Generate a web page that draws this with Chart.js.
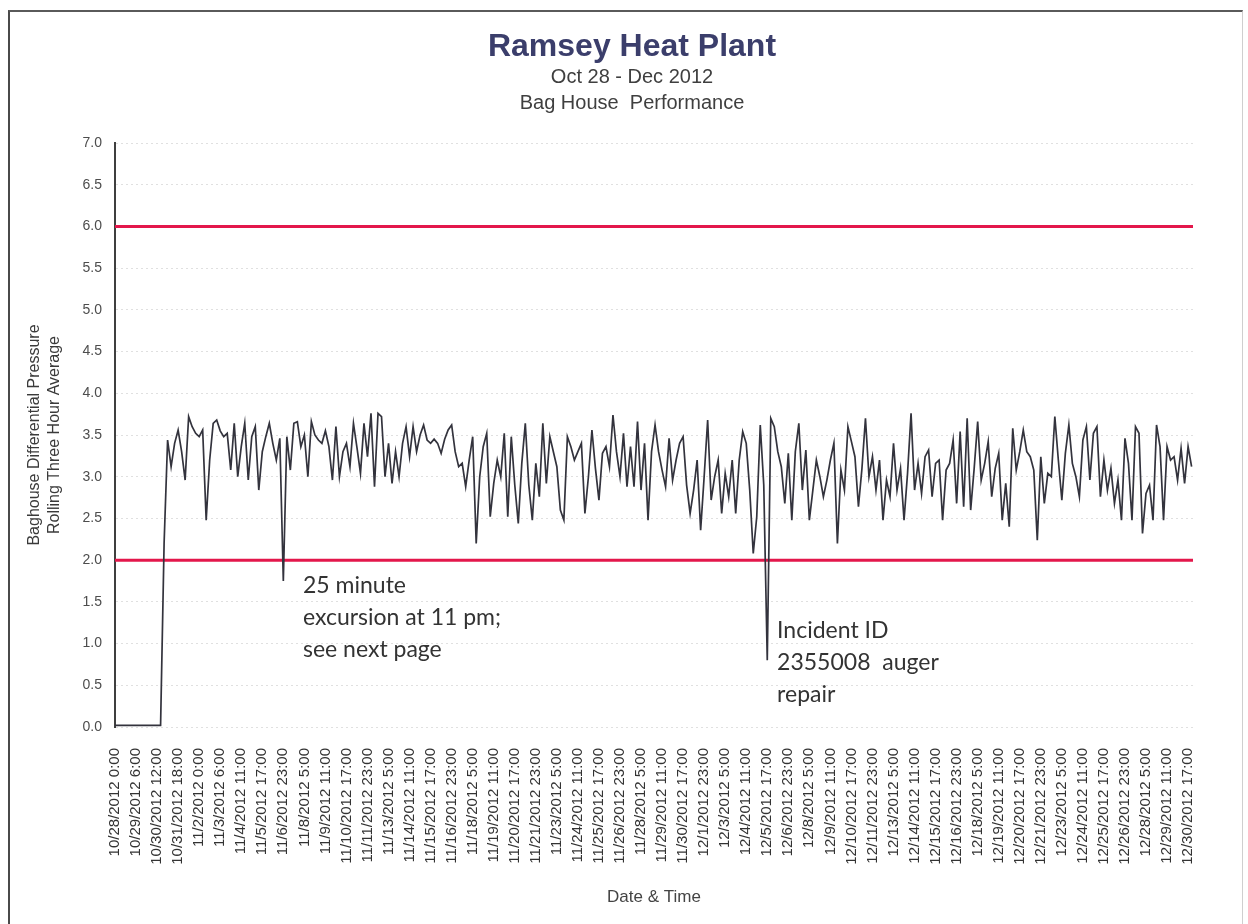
<!DOCTYPE html>
<html>
<head>
<meta charset="utf-8">
<script src="https://cdn.jsdelivr.net/npm/chart.js@4.4.1/dist/chart.umd.min.js"></script>
<style>
  html, body { margin: 0; padding: 0; background: #fff; overflow: hidden; }
  #wrap { position: relative; width: 1248px; height: 924px; }
  #wrap canvas { position: absolute; left: 0; top: 0; }
  #frame {
    position: absolute; left: 8px; top: 10px; right: 5px; bottom: -4px;
    border-left: 2px solid #4a4a4a; border-top: 2px solid #5a5a5a; border-right: 1px solid #cfcfcf;
    pointer-events: none;
  }
</style>
</head>
<body>
<div id="wrap">
  <canvas id="chart" width="1248" height="924"></canvas>
  <div id="frame"></div>
</div>
<script>
// ===== Ramsey Heat Plant - Bag House Performance =====
// rolling three hour average, one reading every 5 hours from 10/28/2012 0:00
const stepHours = 5;
const pressure = [
  0.02, 0.02, 0.02, 0.02, 0.02, 0.02, 0.02, 0.02, 0.02, 0.02, 0.02, 0.02, 0.02, 0.02,
  2.2, 3.44, 3.12, 3.4, 3.56, 3.3, 2.96,
  3.72, 3.6, 3.52, 3.48, 3.56, 2.48, 3.2, 3.64, 3.68, 3.55,
  3.48, 3.52, 3.08, 3.64, 3.0, 3.36, 3.64, 2.96, 3.48, 3.6,
  2.84, 3.3, 3.48, 3.64, 3.4, 3.2, 3.46, 1.75, 3.48, 3.08,
  3.64, 3.66, 3.36, 3.5, 3.0, 3.66, 3.5, 3.44, 3.4, 3.55,
  3.36, 2.96, 3.6, 3.0, 3.3, 3.4, 3.12, 3.64, 3.35, 3.04,
  3.64, 3.24, 3.76, 2.88, 3.76, 3.72, 3.0, 3.4, 2.92, 3.3,
  3.0, 3.4, 3.6, 3.24, 3.6, 3.3, 3.5, 3.62, 3.44, 3.4,
  3.45, 3.4, 3.28, 3.45, 3.56, 3.62, 3.3, 3.12, 3.16, 2.88,
  3.2, 3.48, 2.2, 3.0, 3.36, 3.52, 2.52, 2.92, 3.2, 3.0,
  3.52, 2.52, 3.48, 2.9, 2.44, 3.16, 3.64, 2.9, 2.48, 3.16,
  2.76, 3.64, 2.92, 3.48, 3.3, 3.12, 2.6, 2.48, 3.48, 3.36,
  3.2, 3.3, 3.4, 2.56, 3.0, 3.56, 3.1, 2.72, 3.28, 3.36,
  3.12, 3.74, 3.3, 3.0, 3.52, 2.88, 3.36, 2.88, 3.66, 2.84,
  3.4, 2.48, 3.3, 3.62, 3.3, 3.08, 2.88, 3.46, 2.96, 3.2,
  3.4, 3.48, 2.9, 2.56, 2.84, 3.2, 2.36, 3.0, 3.68, 2.72,
  3.0, 3.2, 2.56, 3.04, 2.76, 3.2, 2.56, 3.2, 3.54, 3.4,
  2.84, 2.08, 2.52, 3.62, 2.9, 0.8, 3.7, 3.6, 3.3, 3.12,
  2.68, 3.28, 2.48, 3.3, 3.64, 2.84, 3.32, 2.48, 2.84, 3.2,
  3.0, 2.76, 2.96, 3.2, 3.4, 2.2, 3.08, 2.84, 3.6, 3.42,
  3.24, 2.64, 3.1, 3.7, 3.0, 3.24, 2.84, 3.2, 2.48, 2.96,
  2.76, 3.4, 2.84, 3.1, 2.48, 3.04, 3.76, 2.84, 3.16, 2.8,
  3.24, 3.32, 2.76, 3.16, 3.2, 2.48, 3.08, 3.16, 3.44, 2.68,
  3.54, 2.64, 3.7, 2.6, 3.1, 3.66, 2.96, 3.16, 3.42, 2.76,
  3.1, 3.28, 2.48, 2.92, 2.4, 3.58, 3.08, 3.3, 3.56, 3.3,
  3.24, 3.08, 2.24, 3.24, 2.68, 3.04, 3.0, 3.72, 3.2, 2.72,
  3.28, 3.62, 3.16, 3.0, 2.76, 3.44, 3.6, 2.96, 3.52, 3.6,
  2.76, 3.2, 2.84, 3.1, 2.68, 2.96, 2.48, 3.46, 3.16, 2.48,
  3.6, 3.52, 2.32, 2.8, 2.9, 2.48, 3.62, 3.36, 2.48, 3.36,
  3.2, 3.24, 2.96, 3.34, 2.92, 3.36, 3.12
];

// x tick labels, one every 30 hours
const tickEveryHours = 30;
const lastHour = 1537;
const tickLabels = [
  '10/28/2012 0:00', '10/29/2012 6:00', '10/30/2012 12:00', '10/31/2012 18:00',
  '11/2/2012 0:00', '11/3/2012 6:00', '11/4/2012 11:00', '11/5/2012 17:00',
  '11/6/2012 23:00', '11/8/2012 5:00', '11/9/2012 11:00', '11/10/2012 17:00',
  '11/11/2012 23:00', '11/13/2012 5:00', '11/14/2012 11:00', '11/15/2012 17:00',
  '11/16/2012 23:00', '11/18/2012 5:00', '11/19/2012 11:00', '11/20/2012 17:00',
  '11/21/2012 23:00', '11/23/2012 5:00', '11/24/2012 11:00', '11/25/2012 17:00',
  '11/26/2012 23:00', '11/28/2012 5:00', '11/29/2012 11:00', '11/30/2012 17:00',
  '12/1/2012 23:00', '12/3/2012 5:00', '12/4/2012 11:00', '12/5/2012 17:00',
  '12/6/2012 23:00', '12/8/2012 5:00', '12/9/2012 11:00', '12/10/2012 17:00',
  '12/11/2012 23:00', '12/13/2012 5:00', '12/14/2012 11:00', '12/15/2012 17:00',
  '12/16/2012 23:00', '12/18/2012 5:00', '12/19/2012 11:00', '12/20/2012 17:00',
  '12/21/2012 23:00', '12/23/2012 5:00', '12/24/2012 11:00', '12/25/2012 17:00',
  '12/26/2012 23:00', '12/28/2012 5:00', '12/29/2012 11:00', '12/30/2012 17:00'
];

// permit limits
const limitHigh = 6.0;
const limitLow = 2.0;

const excursionNote = ['25 minute', 'excursion at 11 pm;', 'see next page'];
const incidentNote = ['Incident ID', '2355008  auger', 'repair'];

const FONT = "'Liberation Sans', Arial, sans-serif";

// free text notes placed in data coordinates
const notesPlugin = {
  id: 'notes',
  afterDatasetsDraw(chart, args, opts) {
    const { ctx, scales: { x, y } } = chart;
    ctx.save();
    ctx.font = opts.font;
    ctx.fillStyle = opts.color;
    ctx.textBaseline = 'middle';
    ctx.textAlign = 'left';
    opts.items.forEach(n => {
      const px = x.getPixelForValue(n.hour);
      const py = y.getPixelForValue(n.value);
      n.lines.forEach((line, i) => ctx.fillText(line, px, py + i * opts.lineGap));
    });
    ctx.restore();
  }
};

const limitLine = v => [{ x: 0, y: v }, { x: lastHour, y: v }];

new Chart(document.getElementById('chart').getContext('2d'), {
  type: 'line',
  data: {
    datasets: [
      {
        label: 'Baghouse DP',
        data: pressure.map((v, i) => ({ x: i * stepHours, y: v })),
        borderColor: '#33333d',
        borderWidth: 1.7,
        pointRadius: 0,
        tension: 0
      },
      {
        label: 'High limit',
        data: limitLine(limitHigh),
        borderColor: '#e3174b',
        borderWidth: 3,
        pointRadius: 0
      },
      {
        label: 'Low limit',
        data: limitLine(limitLow),
        borderColor: '#e3174b',
        borderWidth: 3,
        pointRadius: 0
      }
    ]
  },
  options: {
    responsive: false,
    animation: false,
    // left padding keeps the centred titles where the original has them
    layout: { padding: { left: 71, top: 10, right: 55, bottom: 0 } },
    plugins: {
      legend: { display: false },
      tooltip: { enabled: false },
      title: {
        display: true,
        text: 'Ramsey Heat Plant',
        color: '#3b3e6b',
        font: { family: FONT, size: 32, weight: 'bold' },
        padding: { top: 18, bottom: -2 }
      },
      subtitle: {
        display: true,
        text: ['Oct 28 - Dec 2012', 'Bag House  Performance'],
        color: '#3f3f3f',
        font: { family: FONT, size: 20, lineHeight: 1.3 },
        padding: { top: 0, bottom: 26.6 }
      },
      notes: {
        font: "23px Lato, 'Liberation Sans', sans-serif",
        color: '#333',
        lineGap: 32,
        items: [
          { hour: 268, value: 1.70, lines: excursionNote },
          { hour: 944, value: 1.16, lines: incidentNote }
        ]
      }
    },
    scales: {
      x: {
        type: 'linear',
        min: 0,
        max: lastHour,
        afterBuildTicks: s => { s.ticks = tickLabels.map((_, i) => ({ value: i * tickEveryHours })); },
        afterFit: s => { s.height = 197; },
        ticks: {
          autoSkip: false,
          minRotation: 90,
          maxRotation: 90,
          padding: 13,
          color: '#333',
          font: { family: FONT, size: 15 },
          callback: (v, i) => tickLabels[i]
        },
        grid: { display: false },
        border: { display: false },
        title: {
          display: true,
          text: 'Date & Time',
          color: '#444',
          font: { family: FONT, size: 17 },
          padding: { top: 0, bottom: 16 }
        }
      },
      y: {
        min: 0,
        max: 7,
        afterFit: s => { s.width = 44; },
        ticks: {
          stepSize: 0.5,
          padding: 13,
          color: '#4d4d4d',
          font: { family: FONT, size: 14 },
          callback: v => v.toFixed(1)
        },
        grid: { color: 'rgba(0,0,0,0.12)', drawTicks: false },
        border: { display: true, color: '#3f3f3f', width: 2, dash: [2, 3] },
        title: {
          display: true,
          text: ['Baghouse Differential Pressure', 'Rolling Three Hour Average'],
          color: '#3a3a3a',
          font: { family: FONT, size: 16, lineHeight: 1.25 },
          padding: { top: -46, bottom: 0 }
        }
      }
    }
  },
  plugins: [notesPlugin]
});
</script>
</body>
</html>
